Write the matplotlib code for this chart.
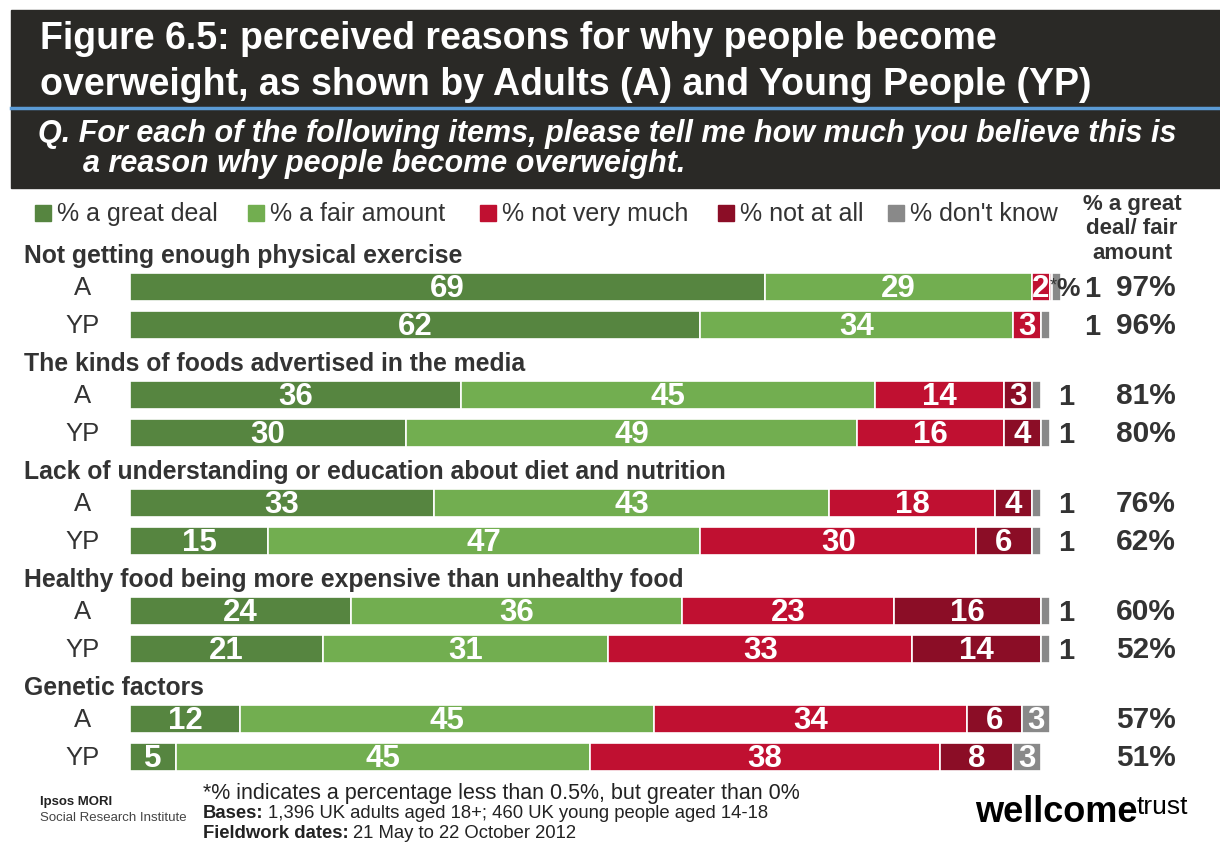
import matplotlib
matplotlib.use("Agg")
import matplotlib.pyplot as plt
from matplotlib.patches import Rectangle

plt.rcParams["font.family"] = ["Liberation Sans", "DejaVu Sans"]

# Data
categories = [
    "Not getting enough physical exercise",
    "The kinds of foods advertised in the media",
    "Lack of understanding or education about diet and nutrition",
    "Healthy food being more expensive than unhealthy food",
    "Genetic factors",
]
groups = ["A", "YP"]
great_deal = [[69, 62], [36, 30], [33, 15], [24, 21], [12, 5]]
fair_amount = [[29, 34], [45, 49], [43, 47], [36, 31], [45, 45]]
not_very_much = [[2, 3], [14, 16], [18, 30], [23, 33], [34, 38]]
not_at_all = [[0.2, 0], [3, 4], [4, 6], [16, 14], [6, 8]]  # 0.2 -> "*" (less than 0.5%)
dont_know = [[1, 1], [1, 1], [1, 1], [1, 1], [3, 3]]
net_great_fair = [[97, 96], [81, 80], [76, 62], [60, 52], [57, 51]]

series_names = ["% a great deal", "% a fair amount", "% not very much",
                "% not at all", "% don't know"]
series_data = [great_deal, fair_amount, not_very_much, not_at_all, dont_know]

# Style
W, H = 1220, 843
COLORS = ["#568540", "#72ae50", "#c01031", "#8b0d26", "#898989"]
HEADER_BG = "#2a2926"
TEXT = "#333333"
PX_PER_UNIT = 9.2
BAR_X0 = 130
FIRST_ROW = 287
CAT_STEP = 108
ROW_STEP = 38
BAR_H = 28

fig = plt.figure(figsize=(W / 100, H / 100), dpi=100)
fig.patch.set_facecolor("white")

# background axes in pixel coordinates
bg = fig.add_axes([0, 0, 1, 1])
bg.set_xlim(0, W)
bg.set_ylim(H, 0)
bg.axis("off")

# bar axes: x in percent, y in pixels
ax = fig.add_axes([0, 0, 1, 1])
ax.set_xlim(-BAR_X0 / PX_PER_UNIT, (W - BAR_X0) / PX_PER_UNIT)
ax.set_ylim(H, 0)
ax.axis("off")
ax.patch.set_alpha(0)

# header
bg.add_patch(Rectangle((11, 10), W - 11, 178, color=HEADER_BG, zorder=0))
bg.plot([11, W], [108, 108], color="#5b9bd5", lw=2.5, zorder=1)
bg.text(40, 39, "Figure 6.5: perceived reasons for why people become",
        color="white", fontsize=27, fontweight="bold", va="center")
bg.text(40, 85, "overweight, as shown by Adults (A) and Young People (YP)",
        color="white", fontsize=27, fontweight="bold", va="center")
bg.text(38, 134, "Q. For each of the following items, please tell me how much you believe this is",
        color="white", fontsize=22, fontweight="bold", style="italic", va="center")
bg.text(83, 164, "a reason why people become overweight.",
        color="white", fontsize=22, fontweight="bold", style="italic", va="center")

# legend
legend_x = [35, 248, 480, 718, 888]
for name, col, lx in zip(series_names, COLORS, legend_x):
    bg.add_patch(Rectangle((lx, 205), 16, 16, color=col))
    bg.text(lx + 22, 214, name, color=TEXT, fontsize=18, va="center")
bg.text(1132, 229, "% a great\ndeal/ fair\namount", color=TEXT, fontsize=16,
        fontweight="bold", ha="center", va="center", linespacing=1.2)

# bars
for ci, cat in enumerate(categories):
    y_a = FIRST_ROW + ci * CAT_STEP
    bg.text(24, y_a - 31, cat, color=TEXT, fontsize=17.8, fontweight="bold", va="center")
    has_star = any(0 < not_at_all[ci][g] < 0.5 for g in range(len(groups)))
    for gi, grp in enumerate(groups):
        y = y_a + gi * ROW_STEP
        bg.text(83, y + 1, grp, color=TEXT, fontsize=18.5, ha="center", va="center")
        left = 0
        for si, data in enumerate(series_data):
            v = data[ci][gi]
            if v <= 0:
                continue
            ax.barh(y, v, left=left, height=BAR_H, color=COLORS[si],
                    edgecolor="white", linewidth=1.2)
            if v < 0.5:
                # "*" = less than 0.5%
                ax.text(left + v + 0.2, y - 1, "*", color=TEXT, fontsize=13,
                        ha="center", va="center")
                ax.text(left + v + 0.5, y + 2, "%", color=TEXT, fontsize=19,
                        fontweight="bold", ha="left", va="center")
            elif v > 1:
                ax.text(left + v / 2, y + 2, str(v), color="white", fontsize=22.5,
                        fontweight="bold", ha="center", va="center")
            else:
                offs = 3.7 if has_star else 0.9
                ax.text(100 + offs, y + 2, str(v), color=TEXT, fontsize=21,
                        fontweight="bold", ha="left", va="center")
            left += v
        ax.text(110.4, y + 1, f"{net_great_fair[ci][gi]}%", color=TEXT, fontsize=21.5,
                fontweight="bold", ha="center", va="center")

# footer
bg.text(40, 802, "Ipsos MORI", color="#222222", fontsize=9.5, fontweight="bold", va="center")
bg.text(40, 818, "Social Research Institute", color="#444444", fontsize=9.5, va="center")
bg.text(203, 793, "*% indicates a percentage less than 0.5%, but greater than 0%",
        color="#222222", fontsize=15.5, va="center")

renderer = fig.canvas.get_renderer()


def mixed(x, y, bold, rest, size):
    t = bg.text(x, y, bold, color="#222222", fontsize=size, fontweight="bold", va="center")
    bb = t.get_window_extent(renderer=renderer)
    bg.text(x + bb.width + 4, y, rest, color="#222222", fontsize=size, va="center")


mixed(203, 813, "Bases:", "1,396 UK adults aged 18+; 460 UK young people aged 14-18", 13.3)
mixed(203, 834, "Fieldwork dates:", "21 May to 22 October 2012", 13.3)

bg.text(975, 822, "wellcome", color="black", fontsize=26, fontweight="heavy", va="baseline")
bg.text(1137, 814, "trust", color="black", fontsize=19, va="baseline")

fig.savefig("out.png", dpi=100)
